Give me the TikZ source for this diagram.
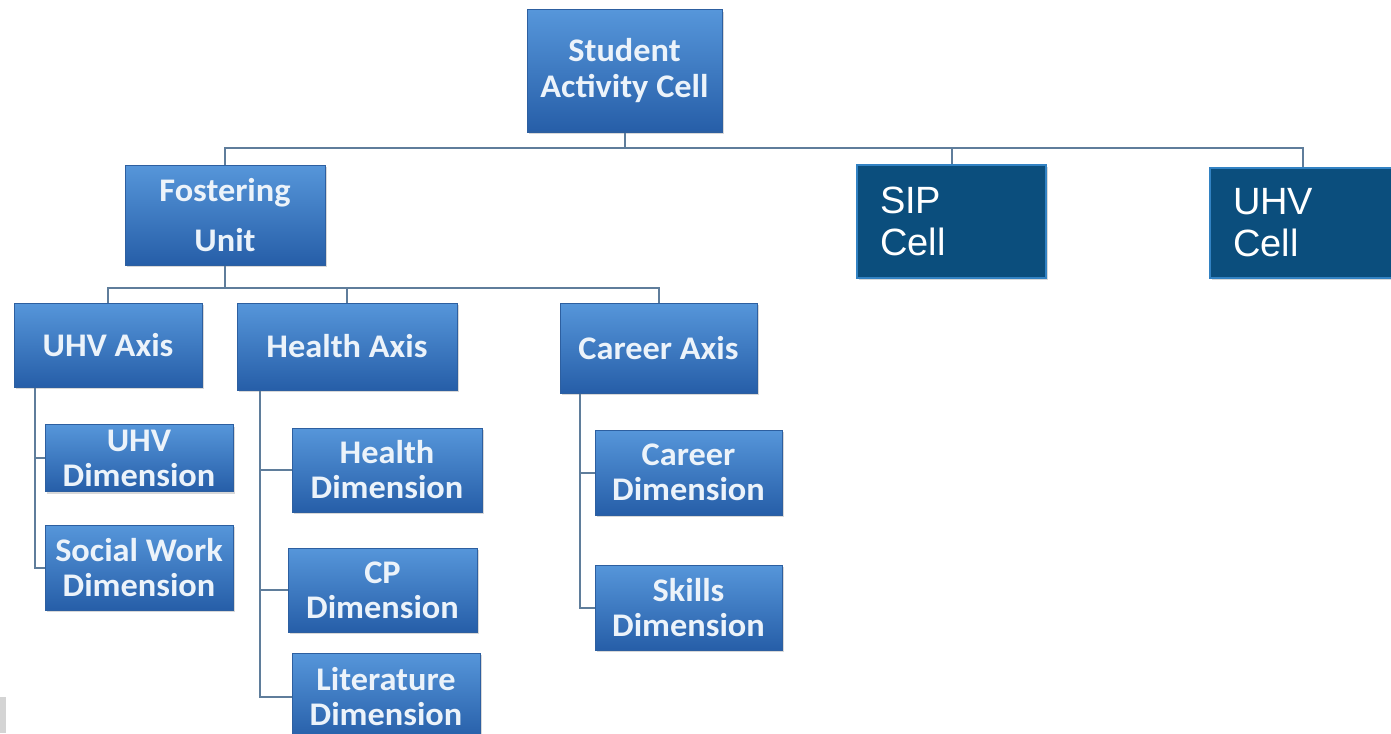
\documentclass[tikz,border=0pt]{standalone}
\usepackage{fontspec}
\setmainfont{Carlito}
\newfontfamily\boxfont{Carlito}[FakeStretch=1.04]
\newfontfamily\arialfont{Liberation Sans}
\usetikzlibrary{shadows}
\definecolor{boxtop}{RGB}{86,150,218}
\definecolor{boxbot}{RGB}{38,94,168}
\definecolor{boxline}{RGB}{45,95,160}
\definecolor{boxtxt}{RGB}{236,243,250}
\definecolor{cellfill}{RGB}{11,78,125}
\definecolor{cellline}{RGB}{50,130,195}
\definecolor{connc}{RGB}{95,125,155}
\tikzset{
  box/.style={draw=boxline, line width=0.5pt, top color=boxtop, bottom color=boxbot,
    text=boxtxt, drop shadow={opacity=0.3, shadow xshift=1.2pt, shadow yshift=-1.2pt},
    inner sep=0pt, align=center, font=\boxfont\bfseries\fontsize{16.5}{18}\selectfont},
  dimbox/.style={box, font=\boxfont\bfseries\fontsize{16.5}{17.5}\selectfont},
  cellbox/.style={draw=cellline, line width=1pt, fill=cellfill, text=white,
    drop shadow={opacity=0.3, shadow xshift=1.2pt, shadow yshift=-1.2pt},
    inner ysep=0pt, inner xsep=11.5pt, align=left,
    font=\arialfont\fontsize{19}{21}\selectfont},
  conn/.style={draw=connc, line width=1pt}
}
\begin{document}
\begin{tikzpicture}[x=0.5pt,y=-0.5pt]
\useasboundingbox (0,0) rectangle (1391,733);
\clip (0,0) rectangle (1391,733);
\fill[white] (0,0) rectangle (1391,733);
\fill[black!17] (0,697) rectangle (6,733);

% level 0
\node[box, minimum width=97.5pt, minimum height=61pt] (sac) at (624.5,71) {Student\\Activity Cell};
% level 1
\node[box, minimum width=100pt, minimum height=50pt] (fu) at (225,215) {Fostering\\[7pt]Unit};
\node[cellbox, minimum width=94.5pt, minimum height=56.5pt, text width=71.5pt] (sip) at (951.5,221.5) {SIP\\Cell};
\node[cellbox, minimum width=92.5pt, minimum height=55pt, text width=69.5pt] (uhvc) at (1302.5,223) {UHV\\Cell};
% level 2
\node[box, minimum width=94pt, minimum height=42pt] (uhva) at (108,345) {UHV Axis};
\node[box, minimum width=110pt, minimum height=43.5pt] (hax) at (347,346.5) {Health Axis};
\node[box, minimum width=98.5pt, minimum height=45pt] (cax) at (658.5,348) {Career Axis};
% level 3
\node[dimbox, minimum width=94pt, minimum height=33.5pt] (uhvd) at (139,458) {UHV\\Dimension};
\node[dimbox, minimum width=94pt, minimum height=42.5pt] (swd) at (139,567.5) {Social Work\\Dimension};
\node[dimbox, minimum width=95pt, minimum height=42pt] (hd) at (387,470) {Health\\Dimension};
\node[dimbox, minimum width=94.5pt, minimum height=42pt] (cpd) at (382.5,590) {CP\\Dimension};
\node[dimbox, minimum width=94pt, minimum height=43.5pt] (lit) at (386,696.5) {Literature\\Dimension};
\node[dimbox, minimum width=93.5pt, minimum height=42.5pt] (cd) at (688.5,472.5) {Career\\Dimension};
\node[dimbox, minimum width=93.5pt, minimum height=42.5pt] (skd) at (688.5,607.5) {Skills\\Dimension};

% connectors level 0 -> 1
\draw[conn] (sac.south) -- ++(0,15) -| (fu.north);
\draw[conn] (sac.south) -- ++(0,15) -| (sip.north);
\draw[conn] (sac.south) -- ++(0,15) -| (uhvc.north);
% level 1 -> 2
\draw[conn] (fu.south) -- ++(0,22) -| (uhva.north);
\draw[conn] (fu.south) -- ++(0,22) -| (hax.north);
\draw[conn] (fu.south) -- ++(0,22) -| (cax.north);
% level 2 -> 3
\draw[conn] (uhva.south west) ++(21,0) |- (uhvd.west);
\draw[conn] (uhva.south west) ++(21,0) |- (swd.west);
\draw[conn] (hax.south west) ++(23,0) |- (hd.west);
\draw[conn] (hax.south west) ++(23,0) |- (cpd.west);
\draw[conn] (hax.south west) ++(23,0) |- (lit.west);
\draw[conn] (cax.south west) ++(20,0) |- (cd.west);
\draw[conn] (cax.south west) ++(20,0) |- (skd.west);
\end{tikzpicture}
\end{document}
